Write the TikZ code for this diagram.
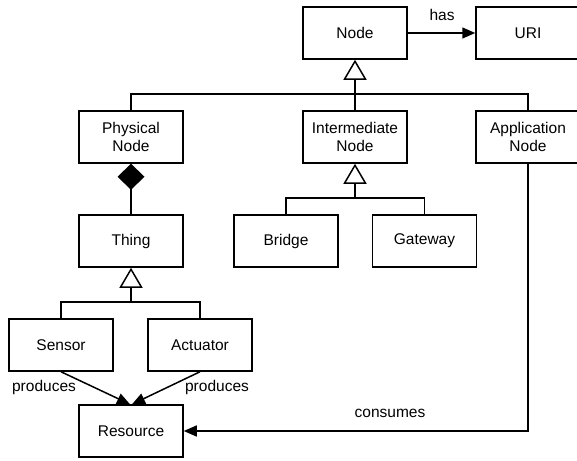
\documentclass[tikz,border=0pt]{standalone}
\usepackage{fontspec}
\setmainfont{Liberation Sans}
\usetikzlibrary{arrows.meta}
\begin{document}
\begin{tikzpicture}[x=1pt,y=-1pt,
  box/.style={draw,line width=1.5pt,minimum width=104pt,minimum height=52pt,inner sep=0pt,align=center,font=\fontsize{15.5}{18.3}\selectfont},
  lbl/.style={font=\fontsize{15.5}{18.3}\selectfont,inner sep=0pt},
  conn/.style={line width=1.5pt},
  gen/.style={conn,-{Triangle[open,length=20pt,width=23pt,line width=1.5pt,fill=white]}},
  assoc/.style={conn,-{Triangle[length=13pt,width=11pt]}},
  comp/.style={conn,{Diamond[length=26pt,width=27pt]}-}]
\useasboundingbox (0,0) rectangle (577,460);
\node[box] (node) at (355,33) {Node};
\node[box] (uri) at (528,33) {URI};
\node[box] (phys) at (131,137) {Physical\\Node};
\node[box] (inter) at (355,137) {Intermediate\\Node};
\node[box] (app) at (528,137) {Application\\Node};
\node[box] (thing) at (131,241) {Thing};
\node[box] (bridge) at (286,241) {Bridge};
\node[box] (gateway) at (424.5,241) {Gateway};
\node[box] (sensor) at (61,345) {Sensor};
\node[box] (actuator) at (200,345) {Actuator};
\node[box] (resource) at (131,431) {Resource};
\coordinate (b1) at (355,94);
\coordinate (b2) at (355,198);
\coordinate (b3) at (131,302);
% Node -> URI
\draw[assoc] (node.east) -- (uri.west);
\node[lbl] (has) at (442,15) {has};
% generalisation of Node
\draw[conn] (phys.north) |- (b1) -| (app.north);
\draw[gen] (inter.north) -- (node.south);
% generalisation of Intermediate Node
\draw[conn] (bridge.north) |- (b2) -| (gateway.north);
\draw[gen] (b2) -- (inter.south);
% composition
\draw[comp] (phys.south) -- (thing.north);
% generalisation of Thing
\draw[conn] (sensor.north) |- (b3) -| (actuator.north);
\draw[gen] (b3) -- (thing.south);
% produces
\draw[assoc] (sensor.south) -- ([xshift=-1pt]resource.north);
\draw[assoc] (actuator.south) -- ([xshift=1pt]resource.north);
\node[lbl] (p1) at (44,387) {produces};
\node[lbl] (p2) at (217,387) {produces};
% consumes
\draw[assoc] (app.south) |- (resource.east);
\node[lbl] (cons) at (390,413) {consumes};
\end{tikzpicture}
\end{document}
